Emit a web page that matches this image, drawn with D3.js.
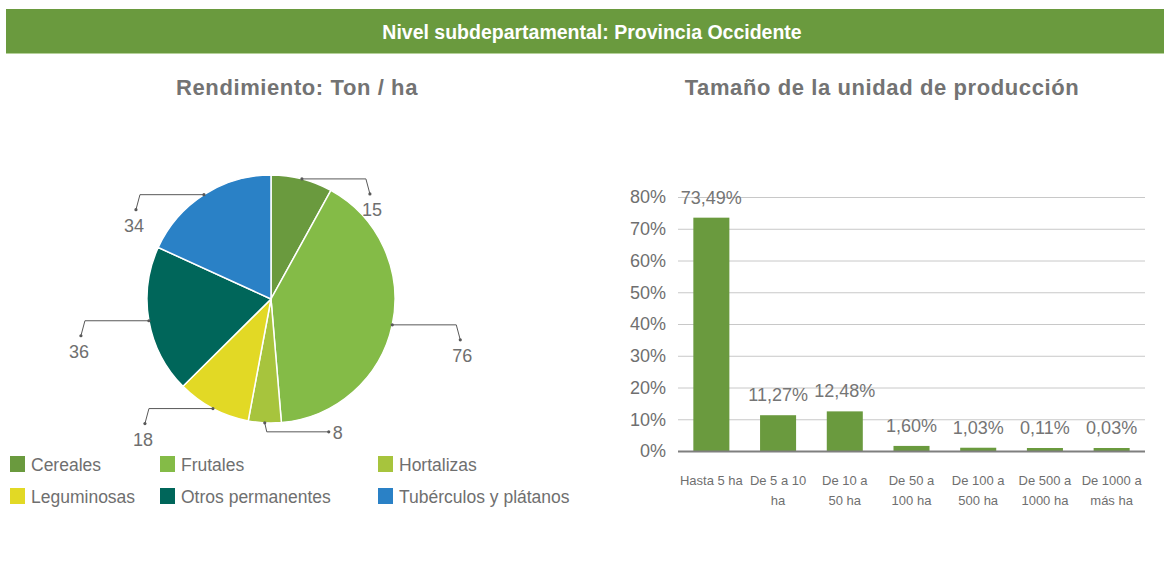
<!DOCTYPE html>
<html lang="es">
<head>
  <meta charset="UTF-8">
  <title>Provincia Occidente</title>
  <script src="https://cdn.jsdelivr.net/npm/d3@7"></script>
  <style>
    body { margin: 0; background: #fff; }
    svg { display: block; font-family: "Liberation Sans", Arial, sans-serif; }
  </style>
</head>
<body>
  <svg width="1164" height="576"></svg>

  <script>
    // datos del pastel: rendimiento (Ton / ha)
    const cultivos = ["Cereales", "Frutales", "Hortalizas", "Leguminosas", "Otros permanentes", "Tubérculos y plátanos"];
    const rendimiento = [15, 76, 8, 18, 36, 34];
    const coloresCultivo = ["#6a9a3e", "#84bb47", "#a7c43d", "#e2d925", "#00665a", "#2a81c6"];

    // datos de barras: tamaño de la unidad de producción
    const tamanos = ["Hasta 5 ha", "De 5 a 10\nha", "De 10 a\n50 ha", "De 50 a\n100 ha", "De 100 a\n500 ha", "De 500 a\n1000 ha", "De 1000 a\nmás ha"];
    const porcentajes = [73.49, 11.27, 12.48, 1.60, 1.03, 0.11, 0.03];
    const ticksY = [0, 10, 20, 30, 40, 50, 60, 70, 80];

    const svg = d3.select("svg");
    const gris = "#6f6f6f";

    // cabecera verde
    svg.append("rect")
      .attr("x", 6).attr("y", 9)
      .attr("width", 1158).attr("height", 44)
      .attr("fill", "#6a9a3e");
    svg.append("line")
      .attr("x1", 6).attr("x2", 1164).attr("y1", 53.5).attr("y2", 53.5)
      .attr("stroke", "#b5d19a");
    svg.append("text")
      .attr("x", 592).attr("y", 39)
      .attr("text-anchor", "middle")
      .attr("fill", "#fff")
      .attr("font-size", 19.5).attr("font-weight", "bold")
      .text("Nivel subdepartamental: Provincia Occidente");

    // títulos
    const titulo = (tx, txt) => svg.append("text")
      .attr("x", tx).attr("y", 95)
      .attr("text-anchor", "middle").attr("fill", "#737373")
      .attr("font-size", 22).attr("font-weight", "bold")
      .attr("letter-spacing", 0.6)
      .text(txt);
    titulo(297, "Rendimiento: Ton / ha");
    titulo(882, "Tamaño de la unidad de producción");

    // ---------- pastel ----------
    const cx = 271, cy = 299, r = 124;
    const pie = d3.pie().sort(null).value(d => d)(rendimiento);
    const arc = d3.arc().innerRadius(0).outerRadius(r);

    const gPie = svg.append("g").attr("transform", `translate(${cx},${cy})`);
    gPie.selectAll("path")
      .data(pie)
      .join("path")
      .attr("d", arc)
      .attr("fill", (d, i) => coloresCultivo[i])
      .attr("stroke", "#fff")
      .attr("stroke-width", 1.5);

    // etiquetas con líneas guía
    const gLab = gPie.append("g");
    pie.forEach(d => {
      const a = (d.startAngle + d.endAngle) / 2;
      const px = r * Math.sin(a), py = -r * Math.cos(a);
      let pts, tx, ty, anchor;
      if (Math.abs(a - Math.PI) < 0.35) {
        // abajo: baja y luego a la derecha
        pts = [[px, py], [px + 2, py + 9], [px + 64, py + 9]];
        tx = px + 68; ty = py + 16; anchor = "start";
      } else {
        const s = px > 0 ? 1 : -1;
        pts = [[px, py], [px + s * 64, py], [px + s * 68, py + 15]];
        tx = px + s * 70; ty = py + 37; anchor = "middle";
      }
      gLab.append("path")
        .attr("d", d3.line()(pts))
        .attr("fill", "none")
        .attr("stroke", "#595959")
        .attr("stroke-width", 1);
      [pts[0], pts[pts.length - 1]].forEach(p => {
        gLab.append("circle").attr("cx", p[0]).attr("cy", p[1]).attr("r", 1.6).attr("fill", "#595959");
      });
      gLab.append("text")
        .attr("x", tx).attr("y", ty)
        .attr("text-anchor", anchor)
        .attr("fill", gris)
        .attr("font-size", 18)
        .text(d.data);
    });

    // leyenda
    const legX = [10, 160, 378];
    const legend = svg.append("g");
    cultivos.forEach((c, i) => {
      const x = legX[i % 3], y = 456 + Math.floor(i / 3) * 32;
      legend.append("rect")
        .attr("x", x).attr("y", y)
        .attr("width", 15).attr("height", 16)
        .attr("fill", coloresCultivo[i]);
      legend.append("text")
        .attr("x", x + 21).attr("y", y + 15)
        .attr("fill", gris)
        .attr("font-size", 17.5)
        .text(c);
    });

    // ---------- barras ----------
    const bx0 = 678, bx1 = 1145, by0 = 451, by1 = 197;
    const x = d3.scaleBand()
      .domain(tamanos)
      .range([bx0, bx1])
      .paddingInner(0.46)
      .paddingOuter(0.23);
    const y = d3.scaleLinear().domain([0, 80]).range([by0, by1]);

    const gBar = svg.append("g");

    // rejilla
    gBar.selectAll("line.grid")
      .data(ticksY.filter(t => t > 0))
      .join("line")
      .attr("x1", bx0).attr("x2", bx1)
      .attr("y1", d => y(d) + 0.5).attr("y2", d => y(d) + 0.5)
      .attr("stroke", "#c8c8c8").attr("stroke-width", 1);

    // eje y
    const yAxis = gBar.append("g")
      .attr("transform", `translate(${bx0},0)`)
      .call(d3.axisLeft(y).tickValues(ticksY).tickFormat(d => d + "%").tickSize(0).tickPadding(12));
    yAxis.select(".domain").remove();
    yAxis.selectAll("text")
      .attr("fill", gris)
      .attr("font-size", 18)
      .attr("font-family", "Liberation Sans, Arial, sans-serif");

    // barras
    gBar.selectAll("rect.bar")
      .data(porcentajes)
      .join("rect")
      .attr("x", (d, i) => x(tamanos[i]))
      .attr("width", x.bandwidth())
      .attr("y", d => Math.min(y(d), by0 - 3))
      .attr("height", d => Math.max(by0 - y(d), 3))
      .attr("fill", "#6a9a3e");

    // eje x
    gBar.append("line")
      .attr("x1", bx0).attr("x2", bx1)
      .attr("y1", by0 + 0.5).attr("y2", by0 + 0.5)
      .attr("stroke", "#7f7f7f").attr("stroke-width", 2);

    // valores
    gBar.selectAll("text.val")
      .data(porcentajes)
      .join("text")
      .attr("x", (d, i) => x(tamanos[i]) + x.bandwidth() / 2)
      .attr("y", d => Math.min(y(d), by0 - 3) - 14)
      .attr("text-anchor", "middle")
      .attr("fill", "#757575")
      .attr("font-size", 18)
      .text(d => d.toFixed(2).replace(".", ",") + "%");

    // etiquetas de categoría
    tamanos.forEach(t => {
      const tt = gBar.append("text")
        .attr("x", x(t) + x.bandwidth() / 2)
        .attr("y", 485)
        .attr("text-anchor", "middle")
        .attr("fill", gris)
        .attr("font-size", 13);
      t.split("\n").forEach((line, k) => {
        tt.append("tspan")
          .attr("x", x(t) + x.bandwidth() / 2)
          .attr("dy", k === 0 ? 0 : 20)
          .text(line);
      });
    });
  </script>
</body>
</html>
